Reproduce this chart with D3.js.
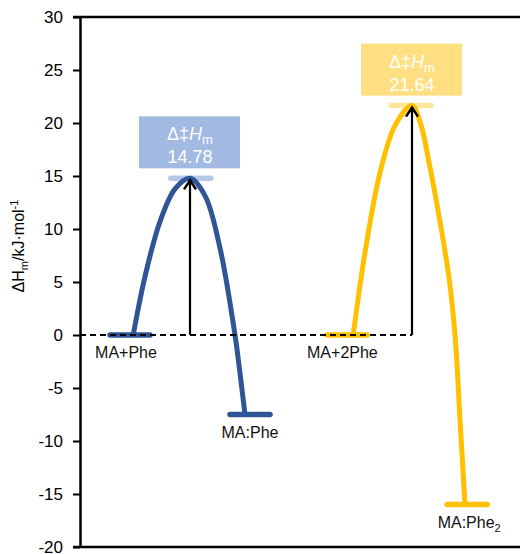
<!DOCTYPE html>
<html>
<head>
<meta charset="utf-8">
<script src="https://cdn.jsdelivr.net/npm/d3@7"></script>
<style>
  body { margin: 0; background: #fff; }
  text { font-family: "Liberation Sans", Arial, sans-serif; }
</style>
</head>
<body>
<svg id="chart" width="522" height="554"></svg>
<script>
// y axis ticks
var yTicks = [-20, -15, -10, -5, 0, 5, 10, 15, 20, 25, 30];

// energy levels (reaction coordinate, energy)
var blueLevels = [[1.25, 0], [4.25, -7.5]];
var yellowLevels = [[6.68, 0], [9.68, -16]];
var levelNames = ["MA+Phe", "MA:Phe", "MA+2Phe", "MA:Phe2"];

// transition states
var peakX = [2.75, 8.3];
var peakE = [14.78, 21.64];

// curve points
var blueCurve = [[1.33, 0], [1.63, 5.6], [2.0, 10.7], [2.38, 13.8], [2.75, 14.78],
                 [3.13, 13.1], [3.5, 8.2], [3.875, 0], [3.99, -3.3], [4.125, -7.5]];
var yellowCurve = [[6.83, 0], [7.13, 7.9], [7.5, 15.3], [7.88, 19.8], [8.3, 21.64],
                   [8.525, 19.8], [8.725, 16.3], [9.0, 10.7], [9.225, 5.4], [9.375, 0],
                   [9.5, -8], [9.625, -16]];

var blue = "#2F5597", blueLight = "#B4C7E7", blueBox = "#A2B9E2";
var yellow = "#FFC000", yellowLight = "#FFE699", yellowBox = "#FFDF82";

var svg = d3.select("#chart");

var x = d3.scaleLinear().domain([0, 11]).range([80, 520]);
var y = d3.scaleLinear().domain([-20, 30]).range([547, 17]);

// frame lines top/bottom
svg.append("line").attr("x1", 73).attr("x2", x(11)).attr("y1", y(30)).attr("y2", y(30))
    .attr("stroke", "#000").attr("stroke-width", 2.5);
svg.append("line").attr("x1", 73).attr("x2", x(11)).attr("y1", y(-20)).attr("y2", y(-20))
    .attr("stroke", "#000").attr("stroke-width", 2.5);

// y axis
var yAxis = svg.append("g")
    .attr("transform", "translate(" + x(0) + ",0)")
    .call(d3.axisLeft(y).tickValues(yTicks).tickSize(7).tickSizeOuter(0).tickPadding(10)
        .tickFormat(function (d) { return String(d); }));
yAxis.select(".domain").attr("stroke", "#000").attr("stroke-width", 2.5);
yAxis.selectAll(".tick line").attr("stroke", "#000").attr("stroke-width", 2);
yAxis.selectAll(".tick text").attr("font-size", 17).attr("fill", "#000")
    .style("font-family", "'Liberation Sans', Arial, sans-serif");

// y label
var yl = svg.append("text")
    .attr("transform", "translate(24,246) rotate(-90)")
    .attr("text-anchor", "middle")
    .attr("font-size", 16)
    .attr("fill", "#000");
yl.append("tspan").text("ΔH");
yl.append("tspan").text("m").attr("font-size", 11).attr("dy", 4);
yl.append("tspan").text("/kJ·mol").attr("dy", -4);
yl.append("tspan").text("-1").attr("font-size", 11).attr("dy", -6);

var hw = 0.5; // half width of level bars
function levelBar(lv, col) {
    svg.append("line")
        .attr("x1", x(lv[0] - hw)).attr("x2", x(lv[0] + hw))
        .attr("y1", y(lv[1])).attr("y2", y(lv[1]))
        .attr("stroke", col).attr("stroke-width", 5.5).attr("stroke-linecap", "round");
}

// peak bars (light)
levelBar([peakX[0] + 0.02, peakE[0]], blueLight);
levelBar([peakX[1] - 0.02, peakE[1]], yellowLight);

blueLevels.forEach(function (d) { levelBar(d, blue); });
yellowLevels.forEach(function (d) { levelBar(d, yellow); });

var line = d3.line()
    .x(function (d) { return x(d[0]); })
    .y(function (d) { return y(d[1]); })
    .curve(d3.curveCatmullRom.alpha(0.5));

svg.append("path").datum(blueCurve).attr("d", line)
    .attr("fill", "none").attr("stroke", blue).attr("stroke-width", 5);
svg.append("path").datum(yellowCurve).attr("d", line)
    .attr("fill", "none").attr("stroke", yellow).attr("stroke-width", 5);

// dashed zero line
svg.append("line").attr("x1", x(0)).attr("x2", x(peakX[1])).attr("y1", y(0)).attr("y2", y(0))
    .attr("stroke", "#000").attr("stroke-width", 2).attr("stroke-dasharray", "6,4");

// arrows
peakX.forEach(function (px, i) {
    var ax = x(px), top = y(peakE[i]) + 2;
    svg.append("line").attr("x1", ax).attr("x2", ax).attr("y1", y(0)).attr("y2", top)
        .attr("stroke", "#000").attr("stroke-width", 2.2);
    svg.append("path")
        .attr("d", "M" + (ax - 6) + "," + (top + 9) + "L" + ax + "," + top + "L" + (ax + 6) + "," + (top + 9))
        .attr("fill", "none").attr("stroke", "#000").attr("stroke-width", 2.5);
});

// label boxes
var boxCols = [blueBox, yellowBox];
peakX.forEach(function (px, i) {
    var cx = x(px), bottom = y(peakE[i]) - 10;
    svg.append("rect").attr("x", cx - 51).attr("y", bottom - 52)
        .attr("width", 101).attr("height", 52).attr("fill", boxCols[i]);
    var t = svg.append("text").attr("x", cx).attr("y", bottom - 28)
        .attr("text-anchor", "middle").attr("fill", "#fff").attr("font-size", 18);
    t.append("tspan").text("Δ‡");
    t.append("tspan").text("H").attr("font-style", "italic");
    t.append("tspan").text("m").attr("font-size", 13).attr("dy", 4);
    svg.append("text").attr("x", cx).attr("y", bottom - 5)
        .attr("text-anchor", "middle").attr("fill", "#fff").attr("font-size", 18)
        .text(peakE[i].toFixed(2));
});

// level names
var allLevels = [blueLevels[0], blueLevels[1], yellowLevels[0], yellowLevels[1]];
var nameDx = [-0.1, 0, -0.12, 0.05];
allLevels.forEach(function (d, i) {
    var t = svg.append("text")
        .attr("x", x(d[0] + nameDx[i])).attr("y", y(d[1]) + 23)
        .attr("text-anchor", "middle").attr("font-size", 16).attr("fill", "#111");
    var nm = levelNames[i];
    if (nm === "MA:Phe2") {
        t.append("tspan").text("MA:Phe");
        t.append("tspan").text("2").attr("font-size", 11).attr("dy", 4);
    } else {
        t.text(nm);
    }
});
</script>
</body>
</html>
